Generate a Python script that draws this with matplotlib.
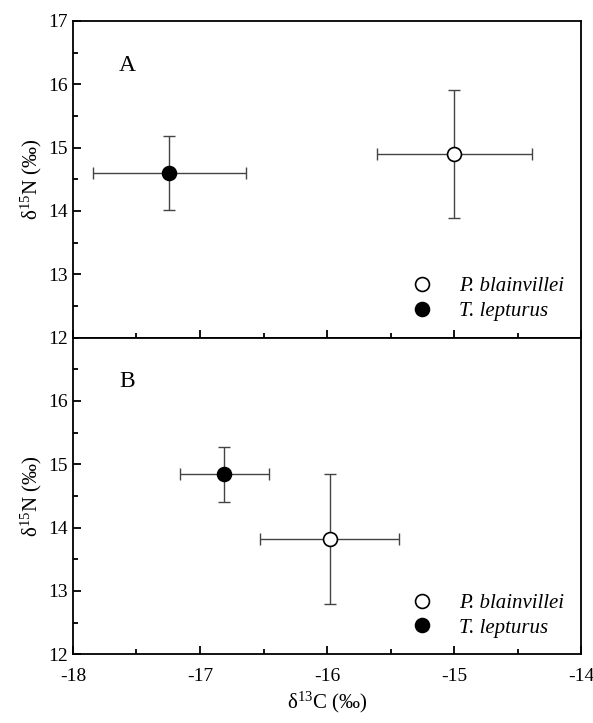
import matplotlib.pyplot as plt
import matplotlib
from matplotlib.lines import Line2D
from matplotlib.ticker import MultipleLocator

matplotlib.rcParams['font.family'] = ['Liberation Serif', 'DejaVu Serif']
matplotlib.rcParams['mathtext.fontset'] = 'custom'
matplotlib.rcParams['mathtext.rm'] = 'Liberation Serif'
matplotlib.rcParams['mathtext.it'] = 'Liberation Serif:italic'
matplotlib.rcParams['axes.unicode_minus'] = False
matplotlib.rcParams['font.size'] = 14

species = ["P. blainvillei", "T. lepturus"]
panels = ["A", "B"]

# delta13C mean / sd, delta15N mean / sd  (panel A, panel B)
c13_mean = {"A": [-15.0, -17.24], "B": [-15.98, -16.81]}
c13_sd = {"A": [0.61, 0.6], "B": [0.55, 0.35]}
n15_mean = {"A": [14.9, 14.6], "B": [13.82, 14.84]}
n15_sd = {"A": [1.01, 0.58], "B": [1.03, 0.43]}

face = ["white", "black"]

fig, axes = plt.subplots(2, 1, figsize=(5.93, 7.23), dpi=100, sharex=True)
fig.subplots_adjust(left=0.123, right=0.98, top=0.971, bottom=0.095, hspace=0)

for ax, p in zip(axes, panels):
    for i, sp in enumerate(species):
        ax.errorbar(c13_mean[p][i], n15_mean[p][i], xerr=c13_sd[p][i], yerr=n15_sd[p][i],
                    fmt='none', ecolor='#444444', elinewidth=1, capsize=4, capthick=1, zorder=2)
        ax.plot(c13_mean[p][i], n15_mean[p][i], 'o', ms=10, mfc=face[i], mec='black',
                mew=1.2, zorder=3)
    ax.set_xlim(-18, -14)
    ax.set_ylim(12, 17)
    ax.xaxis.set_major_locator(MultipleLocator(1))
    ax.xaxis.set_minor_locator(MultipleLocator(0.5))
    ax.yaxis.set_major_locator(MultipleLocator(1))
    ax.yaxis.set_minor_locator(MultipleLocator(0.5))
    ax.tick_params(which='both', direction='in', top=False, right=False, width=1.3)
    ax.tick_params(which='major', length=6, labelsize=14)
    ax.tick_params(which='minor', length=3.5)
    ax.tick_params(axis='x', pad=10)
    for s in ax.spines.values():
        s.set_linewidth(1.3)
    ax.set_ylabel('δ$^{15}$N (‰)', fontsize=15, labelpad=3)
    ax.text(-17.57, 16.3, p, fontsize=17, ha='center', va='center')
    handles = [Line2D([], [], marker='o', ls='none', ms=10, mfc=face[i], mec='black', mew=1.2)
               for i in range(2)]
    ax.legend(handles, species, loc='lower right', frameon=False, prop={'style': 'italic', 'size': 15},
              handletextpad=0.8, labelspacing=0.25, borderaxespad=0.4)

axes[1].set_yticks([12, 13, 14, 15, 16])
axes[1].set_xlabel('δ$^{13}$C (‰)', fontsize=15, labelpad=3)

fig.savefig("out.png")
